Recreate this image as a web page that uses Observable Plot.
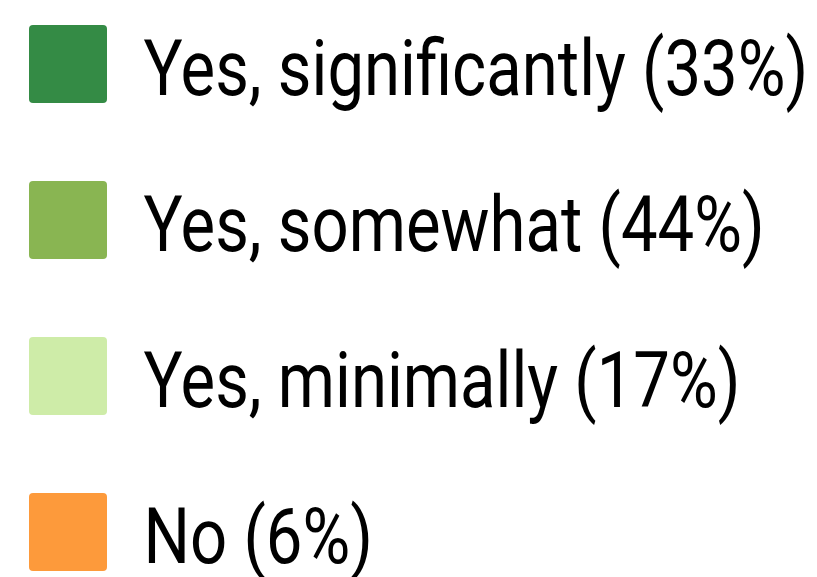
<!DOCTYPE html>
<html>
<head>
<meta charset="utf-8">
<script src="https://cdn.jsdelivr.net/npm/d3@7"></script>
<script src="https://cdn.jsdelivr.net/npm/@observablehq/plot@0.6"></script>
<style>
  html, body { margin: 0; padding: 0; background: #fff; }
  #chart svg { display: block; }
</style>
</head>
<body>
<div id="chart"></div>
<script>
const categories = ["Yes, significantly", "Yes, somewhat", "Yes, minimally", "No"];
const shares = [33, 44, 17, 6];
const colors = ["#348b45", "#89b552", "#ceeca8", "#fd9a3b"];

const rows = categories.map((c, i) => ({
  category: c,
  share: shares[i],
  label: `${c} (${shares[i]}%)`,
  slot: "swatch"
}));

const chart = Plot.plot({
  width: 817,
  height: 577,
  margin: 0,
  style: { background: "#fff" },
  x: { type: "band", domain: ["swatch"], range: [29, 107], padding: 0, axis: null },
  y: { type: "band", domain: categories, range: [25, 571], paddingInner: 0.5, paddingOuter: 0, axis: null },
  color: { type: "ordinal", domain: categories, range: colors },
  marks: [
    Plot.cell(rows, { x: "slot", y: "category", fill: "category", rx: 4, inset: 0 }),
    Plot.text(rows, {
      y: "category",
      frameAnchor: "left",
      dx: 143,
      dy: 6,
      text: "label",
      textAnchor: "start",
      fill: "#000",
      fontSize: 77,
      fontWeight: 400,
      fontFamily: "Roboto, 'Noto Sans', sans-serif"
    })
  ]
});
document.getElementById("chart").append(chart);

// condense the label text horizontally (reference uses a narrow face)
const g = chart.querySelector('g[aria-label="text"]');
if (g) {
  const texts = g.querySelectorAll("text");
  const natural = texts[0].getComputedTextLength();
  const f = natural > 0 ? 665 / natural : 1;
  const existing = g.getAttribute("transform") || "";
  g.setAttribute("transform", `translate(143,0) scale(${f},1) translate(-143,0) ${existing}`);
}
</script>
</body>
</html>
